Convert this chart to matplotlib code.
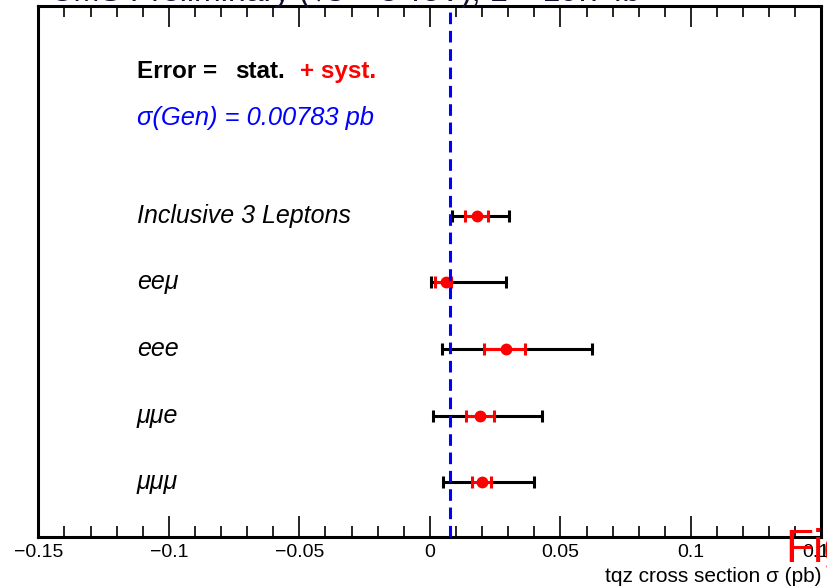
import matplotlib
matplotlib.use("Agg")
import matplotlib.pyplot as plt
from matplotlib.ticker import MultipleLocator
import numpy as np

plt.rcParams['font.family'] = ['Liberation Sans', 'DejaVu Sans']

# ---- data ----
channels = ["Inclusive 3 Leptons", "ee\u03bc", "eee", "\u03bc\u03bce", "\u03bc\u03bc\u03bc"]
central = [0.0181, 0.0063, 0.0291, 0.0191, 0.0200]
stat_lo = [0.0045, 0.0045, 0.0082, 0.0052, 0.0038]
stat_hi = [0.0043, 0.0018, 0.0072, 0.0054, 0.0035]
tot_lo = [0.0098, 0.0060, 0.0246, 0.0178, 0.0151]
tot_hi = [0.0123, 0.0229, 0.0331, 0.0240, 0.0200]
sigma_gen = 0.00783
xticks = [-0.15, -0.1, -0.05, 0, 0.05, 0.1, 0.15]
xtick_labels = ["\u22120.15", "\u22120.1", "\u22120.05", "0", "0.05", "0.1", "0.15"]

fig = plt.figure(figsize=(8.27, 5.86), dpi=100)
ax = fig.add_axes([0.0463, 0.0828, 0.9470, 0.9070])

ypos = np.arange(len(channels), 0, -1)

ax.errorbar(central, ypos, xerr=[tot_lo, tot_hi], fmt='none', ecolor='black',
            elinewidth=2.2, capsize=4.2, capthick=2.2, zorder=2)
ax.errorbar(central, ypos, xerr=[stat_lo, stat_hi], fmt='none', ecolor='red',
            elinewidth=2.2, capsize=4.2, capthick=2.2, zorder=3)
ax.plot(central, ypos, 'o', color='red', markersize=7.5, zorder=4)
ax.axvline(sigma_gen, color='blue', linewidth=2.2, linestyle=(0, (3.8, 2.2)), zorder=5)

ax.set_xlim(-0.15, 0.15)
ax.set_ylim(0.172, 8.146)
ax.set_yticks([])
ax.set_xticks(xticks)
ax.set_xticklabels(xtick_labels, fontsize=14)
ax.xaxis.set_minor_locator(MultipleLocator(0.01))
ax.tick_params(axis='x', which='major', direction='in', length=15, width=1.2,
               top=True, bottom=True, pad=5)
ax.tick_params(axis='x', which='minor', direction='in', length=8, width=1.2,
               top=True, bottom=True)
for s in ax.spines.values():
    s.set_linewidth(2.2)

# channel labels
for lab, y in zip(channels, ypos):
    ax.text(0.126, y, lab, transform=ax.get_yaxis_transform(), fontsize=18,
            style='italic', va='center', ha='left')

# legend-like text
ax.text(0.126, 7.16, "Error =", transform=ax.get_yaxis_transform(), fontsize=17.5,
        fontweight='bold', va='center', ha='left')
ax.text(0.251, 7.16, "stat.", transform=ax.get_yaxis_transform(), fontsize=17.5,
        fontweight='bold', va='center', ha='left')
ax.text(0.334, 7.16, "+ syst.", transform=ax.get_yaxis_transform(), fontsize=17.5,
        fontweight='bold', color='red', va='center', ha='left')
ax.text(0.126, 6.47, "\u03c3(Gen) = %.5f pb" % sigma_gen, transform=ax.get_yaxis_transform(),
        fontsize=18.4, style='italic', color='blue', va='center', ha='left')

ax.set_xlabel("tqz cross section \u03c3 (pb)", fontsize=15, loc='right', labelpad=4)

# clipped title at top and clipped red annotation at right
fig.text(0.06, 0.9985, "CMS Preliminary (\u221as = 8 TeV), L = 19.7 fb\u207b\u00b9",
         fontsize=23, va='baseline', ha='left', color='#101030')
fig.text(785 / 827, 1 - 562 / 586, "Figure", fontsize=33, color='red',
         va='baseline', ha='left')

fig.savefig("out.png", dpi=100)
